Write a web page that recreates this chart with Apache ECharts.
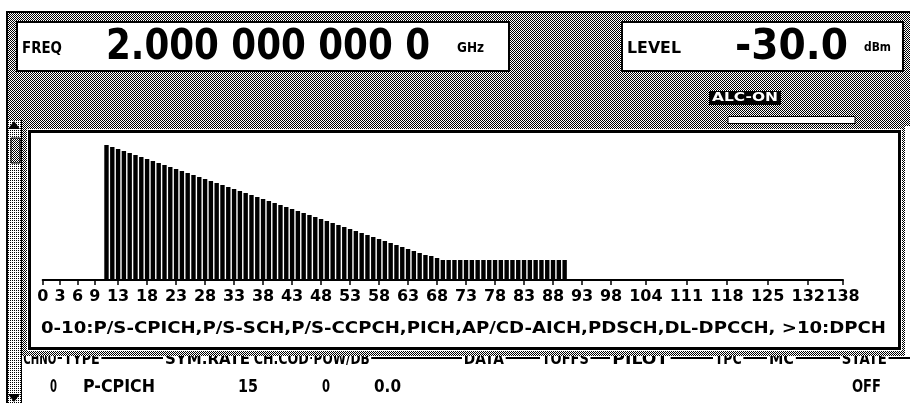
<!DOCTYPE html>
<html><head><meta charset="utf-8">
<script src="https://cdn.jsdelivr.net/npm/echarts@6/dist/echarts.min.js"></script>
<style>html,body{margin:0;padding:0;background:#fff}#c{width:910px;height:403px}</style>
</head><body><div id="c"></div>
<script>
// ---- data ----
const channels = [11,12,13,14,15,16,17,18,19,20,21,22,23,24,25,26,27,28,29,30,
  31,32,33,34,35,36,37,38,39,40,41,42,43,44,45,46,47,48,49,50,
  51,52,53,54,55,56,57,58,59,60,61,62,63,64,65,66,67,68,69,70,
  71,72,73,74,75,76,77,78,79,80,81,82,83,84,85,86,87,88,89,90];
const levels = [135,133,131,129,127,125,123,121,119,117,115,113,111,109,107,105,103,101,99,97,
  95,93,91,89,87,85,83,81,79,77,75,73,71,69,67,65,63,61,59,57,
  55,53,51,49,47,45,43,41,39,37,35,33,31,29,27,25,24,22,20,20,
  20,20,20,20,20,20,20,20,20,20,20,20,20,20,20,20,20,20,20,20];
const tickValues = [0,3,6,9,13,18,23,28,33,38,43,48,53,58,63,68,73,78,83,88,93,98,104,111,118,125,132,138];
const footnote = '0-10:P/S-CPICH,P/S-SCH,P/S-CCPCH,PICH,AP/CD-AICH,PDSCH,DL-DPCCH, >10:DPCH';
const freqLabel = 'FREQ', freqValue = '2.000 000 000 0', freqUnit = 'GHz';
const levelLabel = 'LEVEL', levelValue = '-30.0', levelUnit = 'dBm';
const alcText = 'ALC-ON';
const headerCols = ['CHNO','TYPE','SYM.RATE','CH.COD','POW/DB','DATA','TOFFS','PILOT','TPC','MC','STATE'];
const rowValues = ['0','P-CPICH','15','0','0.0','OFF'];

// ---- helpers ----
function dither(a, b, full) {
  const c = document.createElement('canvas'); c.width = 2; c.height = 2;
  const g = c.getContext('2d');
  g.fillStyle = b; g.fillRect(0, 0, 2, 2);
  g.fillStyle = a; g.fillRect(0, 0, 1, 1); if (full) g.fillRect(1, 1, 1, 1);
  return { image: c, repeat: 'repeat' };
}
const DARK = dither('#000', '#fff', true);
const LIGHT = dither('#000', '#fff', false);
const mctx = document.createElement('canvas').getContext('2d');
function fit(text, f, target) { mctx.font = f; return target / mctx.measureText(text).width; }
function font(s) { return 'bold ' + s + 'px "DejaVu Sans"'; }
function txt(x, y, text, f, opts) {
  opts = opts || {};
  const el = { type: 'text', x: x, y: y, z2: opts.z2 || 20,
    style: Object.assign({ text: text, font: f, fill: opts.fill || '#000',
      align: opts.align || 'left', textAlign: opts.align || 'left',
      verticalAlign: 'middle', textVerticalAlign: 'middle' }, opts.style || {}) };
  if (opts.width) { el.scaleX = fit(text, f, opts.width); }
  return el;
}
function rect(x, y, w, h, fill, opts) {
  opts = opts || {};
  return { type: 'rect', shape: { x: x, y: y, width: w, height: h }, z2: opts.z2 || 1,
    style: { fill: fill, stroke: opts.stroke || null, lineWidth: opts.lw || 0 } };
}

const headerX = [22,62,163,252,312,462,540,610,713,767,840];
const headerW = [33,36,85,55,56,40,47,56,27,25,45];
const rowX = [50,83,238,322,374,852];
const rowW = [7,72,20,8,27,29];

const elements = [];
elements.push({ type: 'line', shape: { x1: 22, y1: 358, x2: 910, y2: 358 }, z2: 2, style: { stroke: '#000', lineWidth: 2 } });
headerCols.forEach((h, i) => {
  elements.push(txt(headerX[i], 360, h, font(15), { width: headerW[i], z2: 3, style: { backgroundColor: '#fff', padding: [2, 2] } }));
});
elements.push(rect(7, 12, 903, 114, DARK, { z2: 5 }));
elements.push(rect(6, 11, 904, 2, '#000', { z2: 6 }));
elements.push(rect(6, 11, 2, 392, '#000', { z2: 6 }));
elements.push(rect(22, 120, 883, 236, DARK, { z2: 5 }));
elements.push(rect(8, 120, 14, 283, LIGHT, { z2: 6 }));
elements.push(rect(21, 120, 1, 283, '#000', { z2: 6 }));
elements.push({ type: 'polygon', shape: { points: [[8, 129], [20, 129], [14, 121]] }, z2: 7, style: { fill: '#000' } });
elements.push({ type: 'polygon', shape: { points: [[8, 394], [20, 394], [14, 402]] }, z2: 7, style: { fill: '#000' } });
elements.push(rect(11, 138, 9, 25, DARK, { z2: 7, stroke: '#000', lw: 1 }));
// FREQ box
elements.push(rect(17, 22, 492, 49, '#fff', { z2: 8, stroke: '#000', lw: 2 }));
elements.push(txt(22, 49, freqLabel, font(15), { width: 40 }));
elements.push(txt(106, 48, freqValue, font(42), { width: 324 }));
elements.push(txt(457, 48, freqUnit, font(14), { width: 27 }));
// LEVEL box
elements.push(rect(622, 22, 281, 49, '#fff', { z2: 8, stroke: '#000', lw: 2 }));
elements.push(txt(627, 49, levelLabel, font(15), { width: 54 }));
elements.push(txt(735, 48, levelValue, font(42), { width: 113 }));
elements.push(txt(864, 48, levelUnit, font(13), { width: 27 }));
// ALC-ON
elements.push(rect(709, 91, 72, 14, '#000', { z2: 8 }));
elements.push(txt(712, 97.5, alcText, font(13), { width: 66, fill: '#fff' }));
// tab
elements.push(rect(728, 116.5, 127, 7, '#fff', { z2: 8, stroke: '#000', lw: 1 }));
// panel
elements.push(rect(27.5, 129.5, 874, 221, '#fff', { z2: 9, stroke: '#fff', lw: 1 }));
elements.push(rect(29.5, 131.5, 870, 217, '#fff', { z2: 10, stroke: '#000', lw: 3 }));
// footnote
elements.push(txt(41, 329, footnote, font(16), { width: 845 }));
// data row
rowValues.forEach((v, i) => { elements.push(txt(rowX[i], 388, v, font(17), { width: rowW[i] })); });

const chart = echarts.init(document.getElementById('c'), null, { renderer: 'canvas' });
chart.setOption({
  animation: false,
  backgroundColor: '#fff',
  graphic: { elements: elements },
  grid: { left: 42.7, right: 67, top: 140, bottom: 123, containLabel: false },
  xAxis: {
    type: 'value', min: 0, max: 138, z: 20, offset: 2,
    axisLine: { show: true, lineStyle: { color: '#000', width: 2 } },
    axisTick: { show: true, customValues: tickValues, length: 5, lineStyle: { color: '#000', width: 1.5 } },
    axisLabel: { show: true, customValues: tickValues, color: '#000', fontFamily: 'DejaVu Sans', fontWeight: 'bold', fontSize: 16, margin: 7 },
    splitLine: { show: false }
  },
  yAxis: { type: 'value', min: 0, max: 140, show: false },
  series: [{
    type: 'bar', z: 20, barWidth: 4.4,
    data: channels.map((c, i) => [c, levels[i]]),
    itemStyle: { color: '#000' }
  }]
});
</script></body></html>
